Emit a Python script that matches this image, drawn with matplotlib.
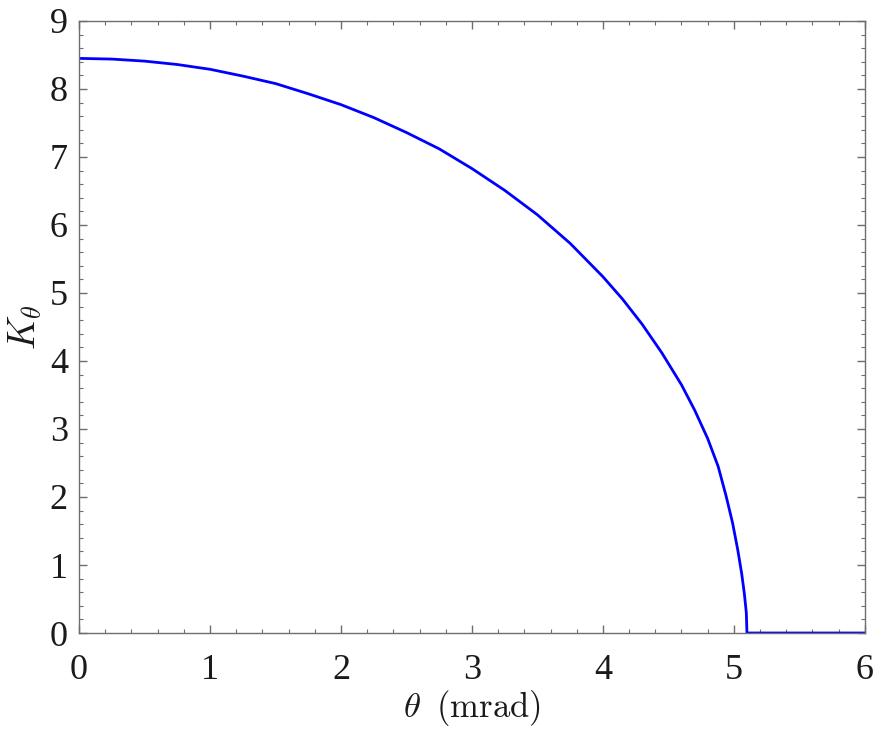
import matplotlib
matplotlib.use("Agg")
import matplotlib.pyplot as plt
from matplotlib.ticker import MultipleLocator

theta = [0.0, 0.25, 0.5, 0.75, 1.0, 1.25, 1.5, 1.75, 2.0, 2.25, 2.5, 2.75,
         3.0, 3.25, 3.5, 3.75, 4.0, 4.15, 4.3, 4.45, 4.6, 4.7, 4.8, 4.88,
         4.94, 4.99, 5.03, 5.06, 5.08, 5.095, 5.1, 6.0]
K = [8.45, 8.44, 8.41, 8.36, 8.29, 8.19, 8.08, 7.93, 7.77, 7.58, 7.36, 7.12,
     6.83, 6.51, 6.15, 5.73, 5.24, 4.91, 4.54, 4.12, 3.65, 3.28, 2.86, 2.45,
     2.02, 1.62, 1.22, 0.87, 0.58, 0.30, 0.0, 0.0]
xticks = [0, 1, 2, 3, 4, 5, 6]
yticks = [0, 1, 2, 3, 4, 5, 6, 7, 8, 9]

plt.rcParams['font.family'] = 'serif'
plt.rcParams['font.serif'] = ['Liberation Serif']
plt.rcParams['mathtext.fontset'] = 'stix'

fig = plt.figure(figsize=(8.78, 7.34), dpi=100)
ax = fig.add_axes([0.090, 0.1376, 0.895, 0.8338])
ax.plot(theta, K, color=(0, 0, 1), lw=2.0, solid_joinstyle='round')
ax.set_xlim(0, 6)
ax.set_ylim(0, 9)
ax.set_xticks(xticks)
ax.set_xticklabels([str(v) for v in xticks])
ax.set_yticks(yticks)
ax.set_yticklabels([str(v) for v in yticks])
ax.xaxis.set_minor_locator(MultipleLocator(0.2))
ax.yaxis.set_minor_locator(MultipleLocator(0.2))
grey = '#6e6e6e'
for s in ax.spines.values():
    s.set_color(grey)
    s.set_linewidth(1.0)
ax.tick_params(which='both', direction='in', top=True, right=True, color=grey,
               labelsize=26, labelcolor='#1a1a1a')
ax.tick_params(which='major', length=6, width=1.0)
ax.tick_params(which='minor', length=3, width=0.8)
ax.tick_params(axis='x', which='major', pad=15)
ax.tick_params(axis='y', which='major', pad=8)
ax.set_xlabel(r'$\theta\;\;\mathrm{(mrad)}$', fontsize=25, color='#1a1a1a',
              labelpad=1, math_fontfamily='cm')
ax.set_ylabel(r'$K_\theta$', fontsize=27, color='#1a1a1a', labelpad=4,
              math_fontfamily='cm')
fig.savefig('out.png', dpi=100)
